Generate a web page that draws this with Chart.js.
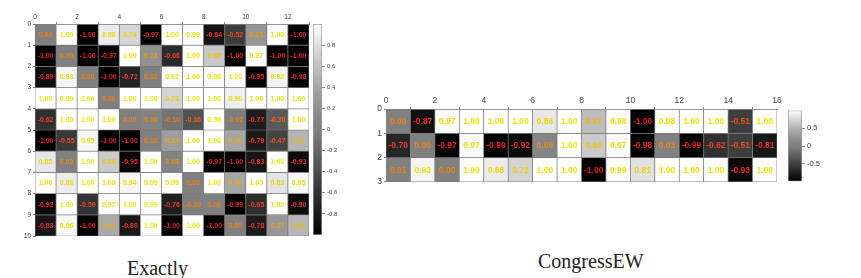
<!DOCTYPE html>
<html>
<head>
<meta charset="utf-8">
<script src="https://cdn.jsdelivr.net/npm/chart.js@4.4.0/dist/chart.umd.min.js"></script>
<style>
  body { margin: 0; background: #fff; width: 861px; height: 278px; position: relative; overflow: hidden; }
  canvas { position: absolute; }
  .title { position: absolute; font-family: "Liberation Serif", "Times New Roman", serif; font-size: 20px; line-height: 20px; color: #222; white-space: nowrap; }
</style>
</head>
<body>
<canvas id="exactly" width="312" height="236" style="left:0px;top:6px"></canvas>
<canvas id="exactlyBar" width="45" height="223" style="left:313px;top:18px"></canvas>
<canvas id="congress" width="417" height="96" style="left:366px;top:93px"></canvas>
<canvas id="congressBar" width="50" height="84" style="left:788px;top:104px"></canvas>
<div class="title" style="left:127px;top:258px">Exactly</div>
<div class="title" style="left:538px;top:251px">CongressEW</div>
<script>
// values, one array per row
const exactlyRows = [
  [0.00, 1.00, -1.00, 0.88, 0.74, -0.97, 1.00, 0.99, -0.84, -0.52, 0.25, 1.00, -1.00],
  [-1.00, 0.00, -1.00, -0.97, 1.00, 0.23, -0.66, 1.00, 0.65, -1.00, 0.97, -1.00, -1.00],
  [-0.89, 0.93, 0.00, -1.00, -0.72, 0.02, 0.97, 1.00, 0.98, 1.00, -0.95, 0.92, -0.98],
  [1.00, 0.99, 1.00, 0.00, 1.00, 1.00, 0.73, 1.00, 1.00, 0.90, 1.00, 1.00, 1.00],
  [-0.62, 1.00, 1.00, 1.00, 0.00, 0.06, -0.10, -0.36, 0.99, -0.02, -0.77, -0.30, 1.00],
  [-1.00, -0.55, 0.95, -1.00, -1.00, 0.00, 0.33, 1.00, 1.00, 0.40, -0.79, -0.47, 0.51],
  [0.85, 0.03, 1.00, 0.66, -0.95, 1.00, 0.08, 1.00, -0.97, -1.00, -0.83, 1.00, -0.93],
  [1.00, 0.88, 1.00, 1.00, 0.94, 0.99, 0.99, 0.00, 1.00, 0.40, 1.00, 0.83, 0.95],
  [-0.92, 1.00, -0.59, 0.97, 1.00, 0.99, -0.76, -0.001, 0.00, -0.99, -0.65, 1.00, -0.90],
  [-0.83, 0.96, -1.00, 0.42, -0.80, 1.00, -1.00, 1.00, -1.00, 0.00, -0.78, 0.27, 0.52]
]

const congressRows = [
  [0.00, -0.87, 0.97, 1.00, 1.00, 1.00, 0.86, 1.00, 0.57, 0.98, -1.00, 0.98, 1.00, 1.00, -0.51, 1.00],
  [-0.70, 0.00, -0.97, 0.97, -0.99, -0.92, 0.09, 1.00, 0.66, 0.97, -0.98, 0.03, -0.99, -0.62, -0.51, -0.81],
  [0.01, 0.93, 0.00, 1.00, 0.88, 0.72, 1.00, 1.00, -1.00, 0.99, 0.81, 1.00, 1.00, 1.00, -0.93, 1.00]
]

const exactlyXTicks = [0, 2, 4, 6, 8, 10, 12]
const congressXTicks = [0, 2, 4, 6, 8, 10, 12, 14, 16]
const exactlyBarTicks = [0.8, 0.6, 0.4, 0.2, 0, -0.2, -0.4, -0.6, -0.8]
const congressBarTicks = [0.5, 0, -0.5]

Chart.defaults.font.family = '"Liberation Sans", Arial, sans-serif'

// grey colormap, -1 black .. 1 white
function shade(v) {
  let t = v > 0 ? 0.5 + 0.5 * Math.pow(v, 1.3) : (v + 1) / 2
  let g = Math.round(255 * t)
  return `rgb(${g},${g},${g})`
}

// red -> orange -> yellow for the numbers
function textColor(v) {
  let t = (v + 1) / 2
  return `rgb(235,${Math.round(30 + 200 * t)},${Math.round(40 - 30 * t)})`
}

const cellLabels = {
  id: 'cellLabels',
  afterDatasetsDraw(chart, args, opts) {
    let ctx = chart.ctx
    ctx.save()
    ctx.font = opts.font
    ctx.textAlign = 'center'
    ctx.textBaseline = 'middle'
    chart.data.datasets.forEach((ds, i) => {
      chart.getDatasetMeta(i).data.forEach((bar, j) => {
        let v = ds.values[j]
        ctx.fillStyle = textColor(v)
        ctx.fillText(v.toFixed(2), bar.x, (bar.y + bar.base) / 2 + 0.5)
      })
    })
    ctx.restore()
  }
}

function heatmap(id, rows, xTicks, cfg) {
  let nCols = rows[0].length
  let datasets = rows.map((vals, r) => ({
    data: vals.map((v, c) => ({ x: c + 0.5, y: [r, r + 1] })),
    values: vals,
    backgroundColor: vals.map(shade),
    borderColor: '#7a7a7a',
    borderWidth: 0.7,
    borderSkipped: false,
    barPercentage: 1,
    categoryPercentage: 1,
    grouped: false
  }))
  let tickFont = { size: cfg.tickSize }
  return new Chart(document.getElementById(id), {
    type: 'bar',
    data: { datasets },
    plugins: [cellLabels],
    options: {
      responsive: false,
      animation: false,
      layout: { padding: cfg.padding },
      plugins: {
        legend: { display: false },
        tooltip: { enabled: false },
        cellLabels: { font: cfg.cellFont }
      },
      scales: {
        x: {
          type: 'linear', position: 'top', min: 0, max: nCols, offset: false,
          afterBuildTicks: s => { s.ticks = xTicks.map(value => ({ value })) },
          ticks: { color: '#444', font: tickFont, padding: 1, maxRotation: 0, autoSkip: false },
          grid: { drawOnChartArea: false, tickLength: 2, color: '#888' },
          border: { color: '#888' },
          afterFit: s => { s.height = cfg.xAxisHeight }
        },
        y: {
          type: 'linear', min: 0, max: rows.length, reverse: true,
          ticks: { stepSize: 1, color: '#444', font: tickFont, padding: 2, autoSkip: false },
          grid: { drawOnChartArea: false, tickLength: 2, color: '#888' },
          border: { color: '#888' },
          afterFit: s => { s.width = cfg.yAxisWidth }
        }
      }
    }
  })
}

function colorbar(id, ticks, cfg) {
  return new Chart(document.getElementById(id), {
    type: 'bar',
    data: {
      labels: [''],
      datasets: [{
        data: [[-1, 1]],
        backgroundColor: (c) => {
          let a = c.chart.chartArea
          if (!a) return '#888'
          let g = c.chart.ctx.createLinearGradient(0, a.bottom, 0, a.top)
          for (let k = 0; k <= 20; k++) {
            g.addColorStop(k / 20, shade(-1 + k / 10))
          }
          return g
        },
        borderColor: '#999',
        borderWidth: 1,
        borderSkipped: false,
        barPercentage: 1,
        categoryPercentage: 1
      }]
    },
    options: {
      responsive: false,
      animation: false,
      layout: { padding: cfg.padding },
      plugins: { legend: { display: false }, tooltip: { enabled: false } },
      scales: {
        x: { display: false },
        y: {
          position: 'right', min: -1, max: 1,
          afterBuildTicks: s => { s.ticks = ticks.map(value => ({ value })) },
          ticks: { color: '#444', font: { size: cfg.tickSize }, padding: 2, callback: v => String(v) },
          grid: { drawOnChartArea: false, tickLength: 3, color: '#888' },
          border: { display: false },
          afterFit: s => { s.width = cfg.axisWidth }
        }
      }
    }
  })
}

heatmap('exactly', exactlyRows, exactlyXTicks, {
  padding: { top: 0, right: 3, bottom: 6, left: 0 },
  xAxisHeight: 18, yAxisWidth: 35, tickSize: 6.5, cellFont: 'bold 7px "Liberation Sans", Arial'
})
colorbar('exactlyBar', exactlyBarTicks, {
  padding: { top: 6, right: 0, bottom: 6, left: 0 }, axisWidth: 36, tickSize: 6
})
heatmap('congress', congressRows, congressXTicks, {
  padding: { top: 0, right: 6, bottom: 6, left: 0 },
  xAxisHeight: 16, yAxisWidth: 20, tickSize: 8.5, cellFont: 'bold 8.5px "Liberation Sans", Arial'
})
colorbar('congressBar', congressBarTicks, {
  padding: { top: 6, right: 0, bottom: 6, left: 0 }, axisWidth: 36, tickSize: 7.5
})
</script>
</body>
</html>
